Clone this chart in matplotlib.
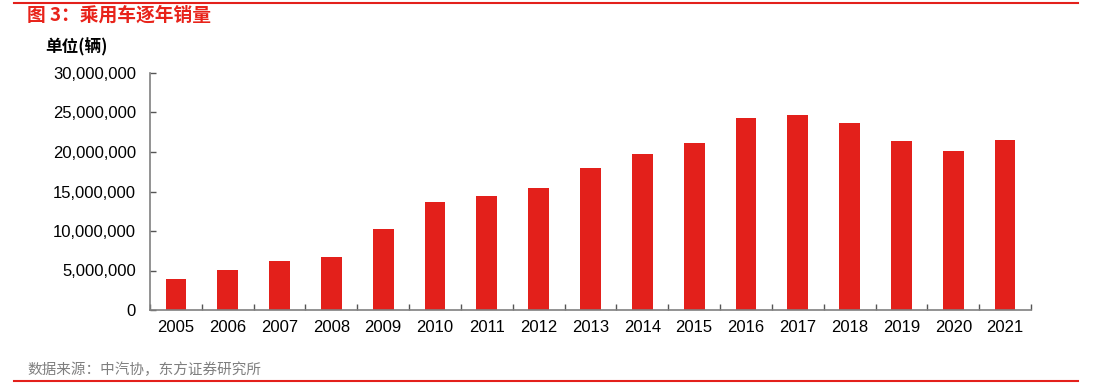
import numpy as np
import matplotlib.pyplot as plt
from matplotlib.lines import Line2D
from matplotlib.ticker import FuncFormatter

plt.rcParams['font.family'] = ['Liberation Sans', 'Noto Sans CJK SC', 'DejaVu Sans']

# Data (vehicles per year)
years = ['2005', '2006', '2007', '2008', '2009', '2010', '2011', '2012', '2013',
         '2014', '2015', '2016', '2017', '2018', '2019', '2020', '2021']
sales = [3940000, 5080000, 6230000, 6650000, 10250000, 13720000, 14470000, 15500000,
         17930000, 19700000, 21150000, 24330000, 24720000, 23710000, 21440000,
         20180000, 21480000]

title = '图 3：乘用车逐年销量'
unit = '单位(辆)'
source = '数据来源：中汽协，东方证券研究所'

red = '#E3201B'
W, H = 1104, 383

fig = plt.figure(figsize=(W / 100, H / 100), dpi=100)
ax = fig.add_axes([150 / W, 1 - 310 / H, (1031 - 150) / W, (310 - 73) / H])

x = np.arange(len(years))
ax.bar(x, sales, width=0.4, color=red, zorder=2)

ax.set_xlim(-0.5, len(years) - 0.5)
ax.set_ylim(0, 30000000)
ax.set_yticks(np.arange(0, 30000001, 5000000))
ax.yaxis.set_major_formatter(FuncFormatter(lambda v, p: f'{int(v):,}'))

ax.set_xticks(x)
ax.set_xticklabels(years)
ax.set_xticks(np.arange(-0.5, len(years), 1), minor=True)
ax.tick_params(axis='x', which='major', length=0, pad=7, labelsize=12)
ax.tick_params(axis='x', which='minor', direction='in', length=4, width=1, color='#555555')
ax.tick_params(axis='y', direction='in', length=4, width=1, color='#555555', pad=10, labelsize=12)

for s in ['top', 'right']:
    ax.spines[s].set_visible(False)
for s in ['left', 'bottom']:
    ax.spines[s].set_color('#808080')
    ax.spines[s].set_linewidth(1.2)

# Header / footer
fig.text(27 / W, 1 - 15 / H, title, color='#E8231A', fontsize=13.5, fontweight='bold',
         va='center', ha='left', family=['Noto Sans CJK SC', 'DejaVu Sans'])
fig.text(45 / W, 1 - 47 / H, unit, color='black', fontsize=12, fontweight='bold',
         va='center', ha='left', family=['Noto Sans CJK SC', 'DejaVu Sans'])
fig.text(27 / W, 1 - 370 / H, source, color='#7f7f7f', fontsize=10.5,
         va='center', ha='left', family=['Noto Sans CJK SC', 'DejaVu Sans'])

fig.add_artist(Line2D([14 / W, 1078 / W], [1 - 3 / H, 1 - 3 / H], color=red, lw=1.5))
fig.add_artist(Line2D([14 / W, 1078 / W], [1 - 381 / H, 1 - 381 / H], color=red, lw=1.5))

fig.savefig('out.png', dpi=100)
